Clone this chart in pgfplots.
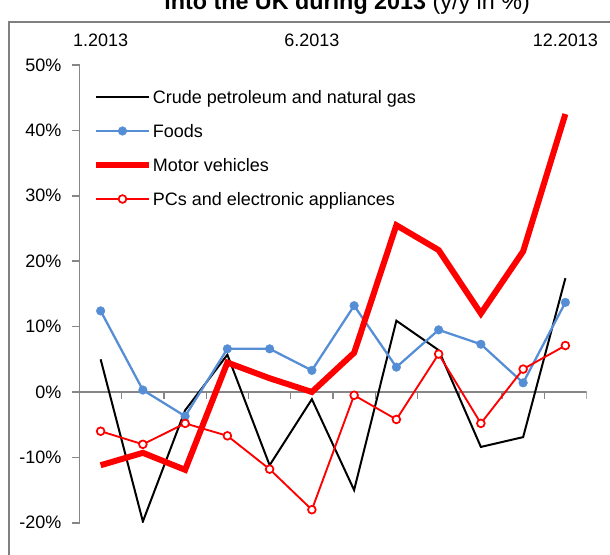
\documentclass[border=0pt]{standalone}
\usepackage{fontspec}
\setmainfont{Liberation Sans}
\usepackage{pgfplots}
\pgfplotsset{compat=1.18}
\definecolor{foodblue}{RGB}{85,142,213}
\definecolor{axgray}{RGB}{134,134,134}
\definecolor{framegray}{RGB}{128,128,128}
\begin{document}
\begin{tikzpicture}
\useasboundingbox (0,0) rectangle (457.5pt,416.25pt);
\draw[framegray, line width=1.5pt] (6.75pt,-20pt) rectangle (480pt,399.75pt);
\node[anchor=base west, inner sep=0pt, font=\fontsize{17.5}{20}\selectfont] at (123pt,408.75pt) {\textbf{into the UK during 2013} (y/y in \%)};
\begin{axis}[
  at={(59.625pt,24.15pt)}, anchor=south west,
  scale only axis, width=380.25pt, height=343.35pt,
  xmin=0.5, xmax=12.5, ymin=-20, ymax=50,
  axis x line*=top, axis y line*=left,
  x axis line style={draw=none},
  y axis line style={axgray, line width=1.1pt},
  tick align=outside, major tick length=5.85pt,
  x tick style={draw=none},
  y tick style={axgray, line width=1.1pt},
  xtick={1,6,12}, xticklabels={1.2013,6.2013,12.2013},
  ytick={-20,-10,0,10,20,30,40,50},
  yticklabels={-20\%,-10\%,0\%,10\%,20\%,30\%,40\%,50\%},
  tick label style={font=\fontsize{13.5}{16}\selectfont},
  yticklabel style={inner sep=0pt, xshift=-7.5pt},
  xticklabel style={inner sep=0pt, yshift=7.65pt},
  legend style={draw=none, fill=none, at={(0.0266,0.948)}, anchor=north west,
    inner sep=0pt, outer sep=0pt, row sep=13.2pt, column sep=0.6pt,
    font=\fontsize{13.5}{16}\selectfont,
    nodes={inner sep=0pt, text height=11pt, text depth=1.3pt}},
  legend cell align=left,
  legend image code/.code={\draw[mark repeat=2,mark phase=2,#1] plot coordinates {(0pt,0pt) (19.875pt,0pt) (39.75pt,0pt)};},
]
\draw[axgray, line width=1.1pt] (axis cs:0.5,0) -- (axis cs:12.5,0);
\pgfplotsinvokeforeach{1.5,2.5,3.5,4.5,5.5,6.5,7.5,8.5,9.5,10.5,11.5,12.5}
  {\draw[axgray, line width=1.1pt] (axis cs:#1,0) -- ++(0pt,-4.9pt);}
\addplot[black, line width=1.5pt, mark=none] coordinates {
 (1,5.0) (2,-19.8) (3,-2.8) (4,5.7) (5,-11.2) (6,-1.1) (7,-15.0) (8,10.9) (9,6.4) (10,-8.4) (11,-6.9) (12,17.4)};
\addlegendentry{Crude petroleum and natural gas}
\addplot[foodblue, line width=1.7pt, mark=*, mark size=3.3pt, mark options={fill=foodblue, draw=foodblue, line width=0.2pt}] coordinates {
 (1,12.4) (2,0.3) (3,-3.7) (4,6.6) (5,6.6) (6,3.3) (7,13.2) (8,3.8) (9,9.5) (10,7.3) (11,1.4) (12,13.7)};
\addlegendentry{Foods}
\addplot[red, line width=4.5pt, mark=none] coordinates {
 (1,-11.2) (2,-9.3) (3,-11.9) (4,4.5) (5,2.1) (6,0.0) (7,6.0) (8,25.5) (9,21.7) (10,12.0) (11,21.5) (12,42.5)};
\addlegendentry{Motor vehicles}
\addplot[red, line width=1.4pt, mark=*, mark size=2.9pt, mark options={fill=white, draw=red, line width=1.3pt}] coordinates {
 (1,-6.0) (2,-8.0) (3,-4.8) (4,-6.7) (5,-11.8) (6,-18.0) (7,-0.5) (8,-4.2) (9,5.8) (10,-4.8) (11,3.5) (12,7.1)};
\addlegendentry{PCs and electronic appliances}
\end{axis}
\end{tikzpicture}
\end{document}
